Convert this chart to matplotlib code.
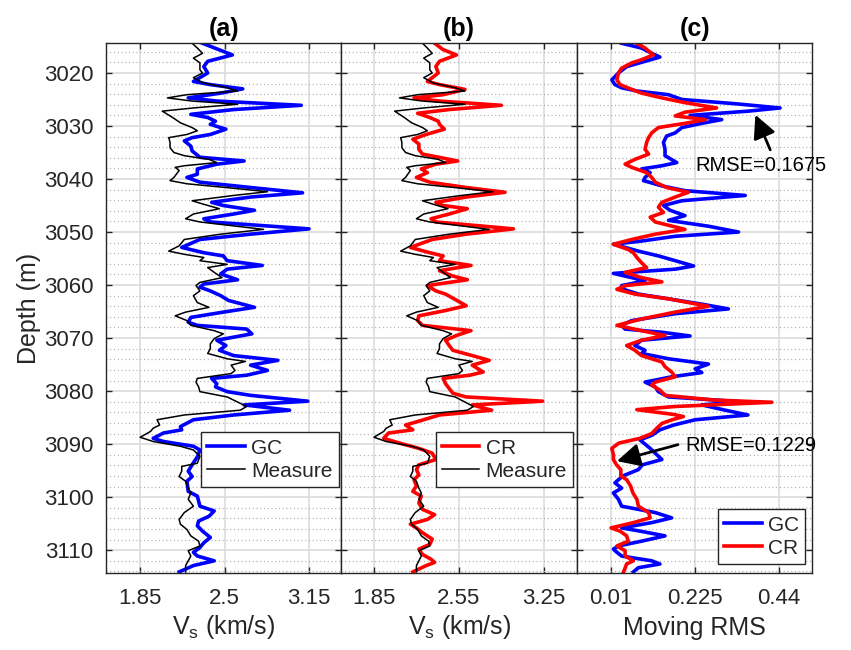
import numpy as np
import matplotlib
matplotlib.use('Agg')
import matplotlib.pyplot as plt

# Vs logs (km/s) against depth (m)
gc_depth = [3014.4, 3016.6, 3017.8, 3018.8, 3020.0, 3021.6, 3022.2, 3023.0, 3023.8, 3024.7,
            3025.3, 3026.1, 3026.9, 3027.8, 3028.4, 3029.1, 3029.7, 3030.6, 3031.6, 3032.2,
            3032.8, 3033.8, 3034.7, 3035.9, 3036.6, 3037.2, 3038.1, 3039.1, 3039.7, 3040.6,
            3041.6, 3042.6, 3043.4, 3044.4, 3045.0, 3045.9, 3046.6, 3047.5, 3048.1, 3049.4,
            3050.4, 3051.4, 3052.9, 3053.9, 3054.5, 3055.4, 3056.3, 3057.0, 3057.9, 3059.0,
            3059.8, 3060.4, 3061.1, 3062.0, 3062.9, 3064.2, 3065.1, 3066.1, 3067.0, 3067.6,
            3068.3, 3069.2, 3070.4, 3071.4, 3072.3, 3073.3, 3074.2, 3075.1, 3076.1, 3077.0,
            3077.6, 3078.6, 3079.2, 3080.1, 3080.8, 3081.9, 3082.6, 3083.6, 3084.5, 3085.4,
            3086.7, 3087.3, 3087.9, 3088.9, 3089.5, 3090.4, 3091.1, 3092.4, 3093.9, 3095.1,
            3096.1, 3097.0, 3098.9, 3099.8, 3101.7, 3102.6, 3103.6, 3104.5, 3105.4, 3106.4,
            3107.6, 3108.6, 3109.5, 3110.4, 3111.1, 3112.0, 3112.9, 3114.1]
gc_vs = [2.33, 2.56, 2.37, 2.34, 2.37, 2.26, 2.39, 2.64, 2.47, 2.22,
         2.44, 3.09, 2.57, 2.24, 2.37, 2.43, 2.39, 2.51, 2.39, 2.25,
         2.19, 2.24, 2.25, 2.31, 2.65, 2.44, 2.29, 2.29, 2.21, 2.31,
         2.70, 3.10, 2.70, 2.40, 2.49, 2.73, 2.57, 2.34, 2.39, 3.15,
         2.70, 2.31, 2.17, 2.34, 2.49, 2.52, 2.79, 2.52, 2.47, 2.60,
         2.34, 2.31, 2.39, 2.47, 2.53, 2.73, 2.49, 2.24, 2.22, 2.29,
         2.67, 2.71, 2.44, 2.51, 2.46, 2.57, 2.91, 2.70, 2.83, 2.67,
         2.40, 2.44, 2.43, 2.52, 2.70, 3.14, 2.65, 3.00, 2.57, 2.26,
         2.16, 2.17, 2.03, 1.95, 2.03, 2.26, 2.31, 2.29, 2.25, 2.22,
         2.25, 2.21, 2.22, 2.29, 2.31, 2.42, 2.38, 2.30, 2.29, 2.33,
         2.39, 2.34, 2.31, 2.26, 2.29, 2.42, 2.26, 2.15]

meas_depth = [3014.4, 3015.3, 3016.3, 3017.2, 3018.1, 3019.4, 3020.0, 3020.9, 3021.9, 3022.8,
              3023.4, 3024.1, 3024.7, 3025.3, 3025.9, 3026.6, 3027.2, 3027.8, 3028.4, 3029.4,
              3030.3, 3030.9, 3031.6, 3032.2, 3033.1, 3034.1, 3035.0, 3035.6, 3036.3, 3036.9,
              3037.5, 3037.8, 3038.4, 3039.7, 3040.3, 3040.9, 3041.6, 3042.4, 3043.1, 3044.1,
              3044.7, 3045.6, 3046.6, 3047.5, 3048.1, 3049.5, 3050.4, 3051.4, 3052.6, 3053.6,
              3054.2, 3054.8, 3055.4, 3056.1, 3056.7, 3057.6, 3058.6, 3059.5, 3060.1, 3061.1,
              3062.0, 3063.3, 3064.2, 3065.1, 3065.8, 3066.7, 3067.6, 3068.6, 3069.2, 3070.1,
              3071.1, 3072.0, 3072.9, 3073.9, 3074.4, 3075.1, 3076.1, 3076.7, 3077.6, 3078.3,
              3079.2, 3080.1, 3081.1, 3081.7, 3082.3, 3082.9, 3083.6, 3084.5, 3085.4, 3086.4,
              3087.0, 3087.6, 3088.7, 3089.5, 3090.4, 3091.1, 3092.3, 3093.6, 3094.2, 3095.1,
              3096.1, 3097.0, 3098.3, 3099.2, 3100.4, 3101.7, 3102.9, 3104.2, 3105.1, 3106.1,
              3107.3, 3108.3, 3109.2, 3110.1, 3111.1, 3112.0, 3112.9, 3114.1]
meas_vs = [2.25, 2.29, 2.33, 2.26, 2.31, 2.31, 2.33, 2.26, 2.34, 2.52,
           2.60, 2.21, 2.06, 2.25, 2.60, 2.26, 2.02, 2.06, 2.10, 2.16,
           2.25, 2.29, 2.21, 2.07, 2.08, 2.08, 2.11, 2.19, 2.38, 2.44,
           2.19, 2.12, 2.15, 2.11, 2.08, 2.21, 2.51, 2.83, 2.57, 2.25,
           2.33, 2.46, 2.26, 2.20, 2.31, 2.80, 2.47, 2.19, 2.15, 2.07,
           2.19, 2.34, 2.31, 2.52, 2.37, 2.42, 2.48, 2.31, 2.28, 2.31,
           2.26, 2.29, 2.38, 2.20, 2.12, 2.21, 2.24, 2.42, 2.49, 2.42,
           2.39, 2.39, 2.37, 2.52, 2.66, 2.55, 2.58, 2.55, 2.29, 2.28,
           2.30, 2.31, 2.52, 2.57, 2.62, 2.67, 2.62, 2.19, 1.98, 2.00,
           1.95, 1.93, 1.85, 1.95, 2.16, 2.26, 2.31, 2.29, 2.17, 2.17,
           2.15, 2.20, 2.22, 2.24, 2.22, 2.26, 2.19, 2.15, 2.16, 2.21,
           2.24, 2.30, 2.31, 2.22, 2.24, 2.22, 2.20, 2.20]

cr_depth = [3014.4, 3015.6, 3016.6, 3017.8, 3018.8, 3020.0, 3021.6, 3022.2, 3023.1, 3024.1,
            3024.7, 3025.3, 3026.1, 3026.9, 3027.6, 3028.4, 3029.1, 3029.7, 3030.6, 3031.6,
            3032.5, 3033.4, 3034.4, 3035.3, 3036.6, 3037.2, 3038.1, 3038.8, 3039.7, 3040.6,
            3041.6, 3042.5, 3043.4, 3044.4, 3045.0, 3045.6, 3046.6, 3047.5, 3048.1, 3049.4,
            3050.4, 3051.4, 3052.9, 3053.9, 3054.5, 3055.4, 3056.3, 3057.3, 3058.3, 3059.0,
            3060.1, 3061.1, 3061.7, 3062.6, 3063.9, 3064.8, 3065.8, 3066.7, 3067.6, 3068.6,
            3069.5, 3070.4, 3071.4, 3072.3, 3073.3, 3074.2, 3075.1, 3076.4, 3077.0, 3077.6,
            3078.6, 3079.5, 3080.4, 3081.1, 3081.9, 3082.6, 3083.6, 3084.5, 3085.8, 3086.4,
            3087.3, 3087.9, 3088.9, 3089.8, 3090.8, 3091.7, 3092.9, 3093.9, 3094.8, 3095.8,
            3096.7, 3097.9, 3098.9, 3099.8, 3101.1, 3102.3, 3103.3, 3104.2, 3105.1, 3105.8,
            3106.7, 3107.9, 3108.9, 3109.8, 3110.8, 3111.7, 3112.3, 3112.9, 3114.1]
cr_vs = [2.35, 2.42, 2.53, 2.39, 2.36, 2.38, 2.29, 2.39, 2.60, 2.42,
         2.18, 2.39, 2.90, 2.47, 2.21, 2.31, 2.38, 2.39, 2.43, 2.28,
         2.17, 2.22, 2.22, 2.25, 2.54, 2.36, 2.24, 2.29, 2.20, 2.31,
         2.61, 2.93, 2.61, 2.36, 2.42, 2.62, 2.47, 2.32, 2.36, 3.00,
         2.61, 2.33, 2.15, 2.31, 2.42, 2.39, 2.65, 2.39, 2.50, 2.62,
         2.29, 2.36, 2.44, 2.51, 2.61, 2.44, 2.22, 2.21, 2.25, 2.65,
         2.53, 2.44, 2.47, 2.50, 2.66, 2.80, 2.66, 2.75, 2.64, 2.42,
         2.44, 2.47, 2.50, 2.61, 3.24, 2.66, 2.82, 2.39, 2.20, 2.11,
         2.17, 1.97, 1.93, 2.06, 2.22, 2.33, 2.36, 2.22, 2.20, 2.22,
         2.18, 2.20, 2.17, 2.24, 2.22, 2.25, 2.35, 2.29, 2.15, 2.20,
         2.25, 2.33, 2.31, 2.22, 2.25, 2.32, 2.35, 2.28, 2.17]

# moving RMS of the misfit
gc_rms_depth = [3014.4, 3015.3, 3016.3, 3017.0, 3017.8, 3018.8, 3020.0, 3021.3, 3022.2, 3022.8,
                3023.4, 3024.1, 3025.0, 3025.8, 3026.6, 3027.2, 3028.0, 3028.8, 3029.5, 3030.3,
                3031.3, 3031.9, 3033.1, 3034.4, 3035.6, 3036.9, 3037.5, 3038.1, 3038.8, 3039.7,
                3040.3, 3041.3, 3042.2, 3043.1, 3044.1, 3045.0, 3045.9, 3046.9, 3047.8, 3048.9,
                3050.0, 3050.8, 3051.7, 3052.3, 3052.9, 3053.6, 3054.5, 3055.4, 3056.4, 3057.0,
                3057.8, 3058.6, 3059.2, 3060.1, 3060.9, 3061.7, 3062.6, 3063.6, 3064.5, 3065.4,
                3066.7, 3067.6, 3068.3, 3068.9, 3069.6, 3070.4, 3071.4, 3072.3, 3072.9, 3073.9,
                3074.9, 3075.8, 3076.5, 3077.3, 3078.3, 3079.2, 3080.1, 3081.1, 3082.0, 3082.6,
                3083.6, 3084.5, 3085.4, 3086.4, 3087.3, 3088.3, 3089.2, 3090.8, 3092.0, 3092.9,
                3093.9, 3094.8, 3096.0, 3097.3, 3098.3, 3099.2, 3100.4, 3101.7, 3102.9, 3103.9,
                3104.8, 3105.8, 3106.4, 3107.3, 3108.3, 3109.2, 3109.8, 3110.4, 3111.1, 3112.0,
                3112.6, 3113.3, 3114.1]
gc_rms = [0.037, 0.088, 0.114, 0.135, 0.097, 0.050, 0.029, 0.012, 0.020, 0.037,
          0.076, 0.157, 0.191, 0.327, 0.442, 0.361, 0.212, 0.293, 0.242, 0.191,
          0.174, 0.152, 0.144, 0.148, 0.148, 0.178, 0.140, 0.088, 0.110, 0.097,
          0.093, 0.140, 0.199, 0.353, 0.191, 0.144, 0.161, 0.199, 0.157, 0.259,
          0.336, 0.174, 0.088, 0.016, 0.046, 0.080, 0.131, 0.174, 0.221, 0.174,
          0.016, 0.063, 0.097, 0.037, 0.046, 0.080, 0.157, 0.242, 0.310, 0.174,
          0.063, 0.037, 0.046, 0.140, 0.212, 0.088, 0.071, 0.097, 0.088, 0.157,
          0.259, 0.225, 0.242, 0.165, 0.097, 0.123, 0.131, 0.157, 0.344, 0.242,
          0.302, 0.360, 0.225, 0.170, 0.135, 0.115, 0.084, 0.110, 0.127, 0.140,
          0.090, 0.080, 0.040, 0.020, 0.037, 0.016, 0.029, 0.037, 0.123, 0.165,
          0.114, 0.037, 0.084, 0.148, 0.088, 0.029, 0.016, 0.025, 0.037, 0.114,
          0.135, 0.080, 0.067]

cr_rms_depth = [3014.4, 3015.3, 3016.6, 3017.5, 3018.1, 3019.1, 3020.0, 3021.3, 3022.2, 3023.1,
                3023.8, 3024.7, 3025.6, 3026.6, 3027.4, 3028.1, 3028.8, 3029.5, 3030.3, 3031.3,
                3032.2, 3033.1, 3034.4, 3035.3, 3036.3, 3037.2, 3037.8, 3038.8, 3039.7, 3040.6,
                3041.6, 3042.5, 3043.4, 3044.4, 3045.3, 3046.3, 3047.2, 3048.1, 3049.5, 3050.4,
                3051.4, 3052.3, 3053.3, 3053.9, 3054.8, 3055.8, 3056.7, 3057.6, 3058.6, 3059.4,
                3060.1, 3060.8, 3061.7, 3062.6, 3064.0, 3065.1, 3066.4, 3067.6, 3068.6, 3069.5,
                3070.4, 3071.4, 3072.3, 3073.3, 3074.5, 3075.4, 3076.4, 3077.3, 3078.3, 3078.9,
                3079.8, 3080.8, 3081.7, 3082.1, 3082.9, 3083.5, 3084.4, 3084.8, 3085.4, 3086.1,
                3087.0, 3088.0, 3088.9, 3089.8, 3090.8, 3092.0, 3092.9, 3093.9, 3094.8, 3096.0,
                3096.7, 3097.9, 3099.2, 3100.4, 3101.7, 3102.9, 3103.9, 3104.8, 3105.8, 3106.4,
                3107.3, 3108.3, 3109.2, 3110.1, 3111.1, 3112.0, 3112.6, 3114.1]
cr_rms = [0.076, 0.097, 0.118, 0.088, 0.063, 0.037, 0.029, 0.025, 0.033, 0.063,
          0.088, 0.140, 0.199, 0.280, 0.199, 0.174, 0.251, 0.199, 0.131, 0.114,
          0.106, 0.101, 0.097, 0.106, 0.071, 0.046, 0.063, 0.101, 0.114, 0.123,
          0.152, 0.208, 0.174, 0.140, 0.131, 0.144, 0.110, 0.123, 0.199, 0.123,
          0.063, 0.016, 0.054, 0.067, 0.076, 0.088, 0.101, 0.046, 0.088, 0.140,
          0.046, 0.025, 0.071, 0.157, 0.259, 0.174, 0.088, 0.025, 0.088, 0.148,
          0.088, 0.050, 0.071, 0.088, 0.140, 0.148, 0.165, 0.174, 0.123, 0.114,
          0.135, 0.148, 0.276, 0.421, 0.174, 0.076, 0.170, 0.195, 0.166, 0.140,
          0.127, 0.114, 0.084, 0.030, 0.012, 0.016, 0.016, 0.024, 0.035, 0.035,
          0.050, 0.060, 0.066, 0.076, 0.080, 0.106, 0.110, 0.067, 0.010, 0.033,
          0.050, 0.054, 0.025, 0.046, 0.046, 0.067, 0.050, 0.042]

rmse_gc = 0.1675
rmse_cr = 0.1229

plt.rcParams['font.family'] = ['Liberation Sans', 'DejaVu Sans']
plt.rcParams['mathtext.fontset'] = 'custom'
plt.rcParams['mathtext.rm'] = 'Liberation Sans'
plt.rcParams['mathtext.it'] = 'Liberation Sans'

darkgray = '#262626'
tick_fs = 16
label_fs = 18

fig = plt.figure(figsize=(8.51, 6.5), dpi=100)
left = 106 / 851
w = 235.5 / 851
bot = 77 / 650
h = 530 / 650
axA = fig.add_axes([left, bot, w, h])
axB = fig.add_axes([left + w, bot, w, h])
axC = fig.add_axes([left + 2 * w, bot, w, h])


def style_axis(ax, xlim, xticks, xticklabels, title):
    ax.set_xlim(xlim)
    ax.set_ylim(3114.3, 3014.35)
    ax.set_xticks(xticks)
    ax.set_xticklabels(xticklabels)
    ax.set_yticks(np.arange(3020, 3111, 10))
    ax.set_yticks(np.arange(3016, 3115, 2), minor=True)
    ax.grid(True, which='major', color='#dcdcdc', lw=1.2)
    ax.grid(True, which='minor', axis='y', color='#a8a8a8', lw=0.9, ls=(0, (0.8, 2.2)))
    ax.set_axisbelow(True)
    ax.tick_params(which='major', direction='in', length=4.5, width=1.0,
                   top=True, right=True, colors=darkgray, labelsize=tick_fs)
    ax.tick_params(axis='x', pad=11)
    ax.tick_params(axis='y', pad=9)
    ax.tick_params(which='minor', length=0)
    for s in ax.spines.values():
        s.set_color(darkgray)
        s.set_linewidth(1.0)
    ax.set_title(title, fontweight='bold', fontsize=label_fs, pad=5)


def add_legend(ax, loc, anchor):
    leg = ax.legend(loc=loc, bbox_to_anchor=anchor, fontsize=15, frameon=True,
                    fancybox=False, edgecolor=darkgray, framealpha=1, handlelength=1.8,
                    borderpad=0.3, labelspacing=0.2, handletextpad=0.3, borderaxespad=0)
    leg.get_frame().set_linewidth(1.0)
    for t in leg.get_texts():
        t.set_color(darkgray)


# (a) GC inversion vs measured log
axA.plot(gc_vs, gc_depth, color='b', lw=2.6, label='GC')
axA.plot(meas_vs, meas_depth, color='k', lw=1.1, label='Measure')
style_axis(axA, (1.587, 3.40), [1.85, 2.5, 3.15], ['1.85', '2.5', '3.15'], '(a)')
axA.set_xlabel(r'V$_{\rm s}$ (km/s)', fontsize=label_fs, color=darkgray, labelpad=3)
axA.set_ylabel('Depth (m)', fontsize=label_fs, color=darkgray, labelpad=2)
add_legend(axA, 'upper right', (0.988, 0.2655))

# (b) CR inversion vs measured log
axB.plot(cr_vs, cr_depth, color='r', lw=2.6, label='CR')
axB.plot(meas_vs, meas_depth, color='k', lw=1.1, label='Measure')
style_axis(axB, (1.582, 3.524), [1.85, 2.55, 3.25], ['1.85', '2.55', '3.25'], '(b)')
axB.set_yticklabels([])
axB.set_xlabel(r'V$_{\rm s}$ (km/s)', fontsize=label_fs, color=darkgray, labelpad=3)
add_legend(axB, 'upper right', (0.984, 0.2655))

# (c) moving RMS of both methods
axC.plot(gc_rms, gc_rms_depth, color='b', lw=2.6, label='GC')
axC.plot(cr_rms, cr_rms_depth, color='r', lw=2.6, label='CR')
style_axis(axC, (-0.077, 0.525), [0.01, 0.225, 0.44], ['0.01', '0.225', '0.44'], '(c)')
axC.set_yticklabels([])
axC.set_xlabel('Moving RMS', fontsize=label_fs, color=darkgray, labelpad=5)
add_legend(axC, 'lower right', (0.970, 0.017))

arrow = dict(arrowstyle='-|>,head_length=0.7,head_width=0.35', color='k', lw=2.0,
             mutation_scale=20, shrinkA=0, shrinkB=0)
axC.annotate('', xy=(0.379, 3027.9), xytext=(0.417, 3034.5), arrowprops=arrow)
axC.text(0.225, 3037.4, 'RMSE=%.4f' % rmse_gc, fontsize=14.5, va='center', ha='left')
axC.annotate('', xy=(0.025, 3093.2), xytext=(0.181, 3090.1), arrowprops=arrow)
axC.text(0.199, 3090.2, 'RMSE=%.4f' % rmse_cr, fontsize=14.5, va='center', ha='left')

fig.savefig('out.png', dpi=100)
